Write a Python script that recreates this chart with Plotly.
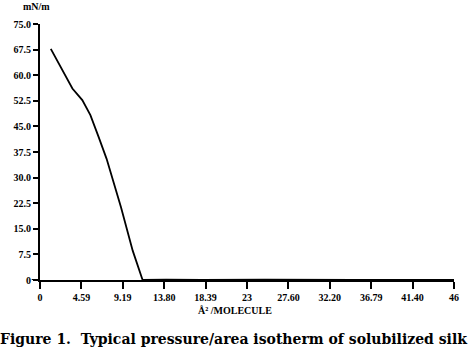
import plotly.graph_objects as go

area = [1.2, 3.6, 4.7, 5.6, 6.5, 7.4, 9.0, 10.3, 11.4, 14.0, 18.0, 25.0, 35.0, 46.0]
pressure = [67.7, 56.1, 52.7, 48.3, 42.0, 35.5, 21.3, 8.6, 0.0, 0.1, 0.0, 0.1, 0.0, 0.0]

x_tick_vals = [0, 4.6, 9.2, 13.8, 18.4, 23.0, 27.6, 32.2, 36.8, 41.4, 46.0]
x_tick_text = ["0", "4.59", "9.19", "13.80", "18.39", "23", "27.60", "32.20", "36.79", "41.40", "46"]
y_tick_vals = [0, 7.5, 15, 22.5, 30, 37.5, 45, 52.5, 60, 67.5, 75]
y_tick_text = ["0", "7.5", "15.0", "22.5", "30.0", "37.5", "45.0", "52.5", "60.0", "67.5", "75.0"]

font_family = "Liberation Serif"

fig = go.Figure()
fig.add_trace(go.Scatter(x=area, y=pressure, mode="lines",
                         line=dict(color="black", width=1.8), showlegend=False))

fig.update_layout(
    width=474, height=351,
    margin=dict(l=40, r=20, t=24, b=71, autoexpand=False),
    paper_bgcolor="white", plot_bgcolor="white",
    font=dict(family=font_family, color="black", size=10),
    xaxis=dict(range=[0, 46], tickvals=x_tick_vals, ticktext=x_tick_text,
               showgrid=False, zeroline=False, showline=True, linecolor="black", linewidth=2,
               ticks="outside", ticklen=7, tickwidth=2, tickcolor="black",
               tickfont=dict(family=font_family, size=10, weight="bold")),
    yaxis=dict(range=[0, 75], tickvals=y_tick_vals, ticktext=y_tick_text,
               showgrid=False, zeroline=False, showline=True, linecolor="black", linewidth=2,
               ticks="outside", ticklen=5, tickwidth=2, tickcolor="black",
               tickfont=dict(family=font_family, size=10, weight="bold")),
)

fig.add_shape(type="line", xref="paper", yref="y", x0=-0.02, x1=0, y0=0, y1=0,
              line=dict(color="black", width=2))

fig.add_annotation(text="<b>mN/m</b>", xref="paper", yref="paper", x=-0.045, y=1.0,
                   xanchor="left", yanchor="bottom", yshift=10, showarrow=False,
                   font=dict(family=font_family, size=10))
fig.add_annotation(text="<b>Å² /MOLECULE</b>", xref="paper", yref="paper", x=0.47, y=-0.12,
                   xanchor="center", yanchor="middle", showarrow=False,
                   font=dict(family=font_family, size=10))
fig.add_annotation(text="<b>Figure 1.</b>  Typical pressure/area isotherm of solubilized silk",
                   xref="paper", yref="paper", x=0, y=-0.19, xanchor="left", yanchor="top",
                   xshift=-42, showarrow=False,
                   font=dict(family="DejaVu Serif", size=14, weight="bold"))

fig.write_html("out.html")
